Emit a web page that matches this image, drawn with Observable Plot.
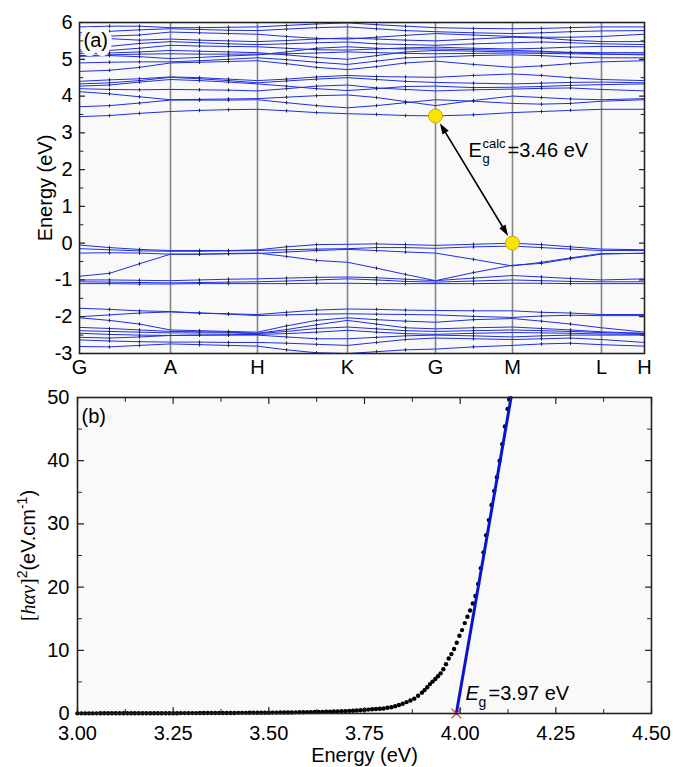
<!DOCTYPE html>
<html><head><meta charset="utf-8">
<script src="https://cdn.jsdelivr.net/npm/d3@7"></script>
<script src="https://cdn.jsdelivr.net/npm/@observablehq/plot@0.6"></script>
<style>
body{margin:0;background:#fff;}
#wrap{width:673px;height:767px;}
#wrap svg{display:block;}
</style></head><body><div id="wrap"></div>
<script>
// ---------- Panel (a): band structure ----------
const kDist = [0,30,60,91,120,149,178,207,237,268,297,326,356,394,433,462,491,522,565];
const kHigh = [0,91,178,268,356,433,522,565];
const kLabels = ["G","A","H","K","G","M","L","H"];
const conduction = [
[3.44,3.47,3.53,3.58,3.61,3.63,3.64,3.6,3.55,3.52,3.5,3.47,3.46,3.49,3.55,3.58,3.61,3.64,3.64],
[3.71,3.74,3.81,3.89,3.89,3.89,3.9,3.82,3.74,3.68,3.74,3.82,3.9,3.86,3.8,3.78,3.8,3.86,3.9],
[4.12,4.06,3.98,3.9,3.91,3.92,3.93,3.97,4.01,4.03,3.96,3.85,3.74,3.88,4.0,3.96,3.92,3.9,3.93],
[4.2,4.18,4.17,4.18,4.17,4.16,4.14,4.2,4.27,4.3,4.22,4.18,4.14,4.17,4.19,4.21,4.22,4.18,4.14],
[4.27,4.3,4.38,4.45,4.42,4.38,4.33,4.27,4.2,4.15,4.2,4.26,4.27,4.23,4.24,4.26,4.29,4.31,4.33],
[4.33,4.36,4.42,4.51,4.47,4.42,4.36,4.41,4.46,4.5,4.45,4.4,4.37,4.35,4.33,4.35,4.37,4.38,4.36],
[4.4,4.44,4.47,4.52,4.5,4.46,4.42,4.46,4.52,4.56,4.53,4.52,4.51,4.56,4.6,4.56,4.5,4.45,4.42],
[4.67,4.7,4.78,4.9,4.92,4.94,4.96,4.88,4.78,4.72,4.8,4.9,4.95,4.86,4.78,4.82,4.88,4.93,4.96],
[4.9,4.92,4.93,4.93,4.96,5.0,5.04,4.99,4.92,4.86,4.95,5.04,5.06,5.1,5.12,5.1,5.06,5.04,5.04],
[5.1,5.12,5.14,5.15,5.14,5.14,5.14,5.15,5.17,5.2,5.18,5.16,5.15,5.16,5.17,5.16,5.15,5.14,5.14],
[5.15,5.17,5.2,5.24,5.22,5.2,5.18,5.12,5.05,5.0,5.1,5.2,5.24,5.22,5.2,5.2,5.19,5.18,5.18],
[5.2,5.24,5.3,5.38,5.36,5.35,5.34,5.3,5.26,5.25,5.28,5.31,5.33,5.3,5.28,5.3,5.33,5.35,5.34],
[5.25,5.35,5.43,5.48,5.45,5.42,5.4,5.42,5.45,5.47,5.42,5.4,5.38,5.42,5.45,5.47,5.45,5.42,5.4],
[5.6,5.56,5.52,5.55,5.52,5.5,5.48,5.51,5.55,5.58,5.55,5.52,5.5,5.55,5.6,5.58,5.52,5.48,5.48],
[5.66,5.63,5.66,5.74,5.72,5.7,5.68,5.62,5.57,5.55,5.6,5.65,5.7,5.66,5.62,5.6,5.6,5.62,5.68],
[5.72,5.76,5.8,5.83,5.81,5.79,5.78,5.82,5.86,5.88,5.83,5.78,5.75,5.72,5.7,5.72,5.75,5.77,5.78],
[5.88,5.9,5.9,5.86,5.86,5.87,5.88,5.92,5.96,5.99,5.94,5.9,5.86,5.84,5.83,5.84,5.86,5.88,5.88],
[5.08,5.1,5.07,5.02,5.05,5.09,5.12,5.2,5.3,5.34,5.3,5.28,5.28,5.26,5.24,5.22,5.18,5.14,5.12]
];
const valence = [
[-0.05,-0.12,-0.17,-0.2,-0.2,-0.2,-0.18,-0.1,-0.04,-0.03,-0.02,-0.04,-0.06,-0.03,0.0,-0.04,-0.1,-0.16,-0.18],
[-0.15,-0.18,-0.21,-0.22,-0.22,-0.21,-0.2,-0.18,-0.16,-0.15,-0.12,-0.12,-0.14,-0.1,-0.08,-0.12,-0.16,-0.2,-0.2],
[-0.27,-0.26,-0.27,-0.3,-0.3,-0.28,-0.27,-0.36,-0.47,-0.52,-0.68,-0.85,-1.02,-0.8,-0.6,-0.55,-0.42,-0.3,-0.27],
[-0.9,-0.82,-0.56,-0.3,-0.3,-0.29,-0.28,-0.24,-0.2,-0.17,-0.2,-0.24,-0.27,-0.44,-0.62,-0.52,-0.4,-0.28,-0.28],
[-1.0,-1.0,-1.01,-1.02,-1.0,-0.98,-0.97,-0.95,-0.93,-0.92,-0.94,-0.98,-1.02,-0.95,-0.88,-0.92,-0.96,-1.0,-0.97],
[-1.05,-1.06,-1.07,-1.08,-1.07,-1.06,-1.05,-1.03,-1.0,-0.97,-1.0,-1.04,-1.06,-1.03,-1.0,-1.02,-1.04,-1.05,-1.05],
[-1.1,-1.1,-1.11,-1.11,-1.1,-1.1,-1.1,-1.1,-1.09,-1.09,-1.1,-1.1,-1.1,-1.1,-1.09,-1.09,-1.1,-1.1,-1.1],
[-1.77,-1.8,-1.84,-1.86,-1.9,-1.92,-1.94,-1.88,-1.82,-1.79,-1.8,-1.82,-1.83,-1.84,-1.84,-1.88,-1.9,-1.94,-1.94],
[-2.0,-1.95,-1.9,-1.87,-1.9,-1.93,-1.97,-1.95,-1.93,-1.92,-1.93,-1.94,-1.95,-1.99,-2.02,-1.98,-1.96,-1.97,-1.97],
[-2.03,-2.1,-2.2,-2.36,-2.38,-2.4,-2.42,-2.25,-2.1,-2.03,-2.08,-2.12,-2.15,-2.08,-2.05,-2.12,-2.2,-2.3,-2.42],
[-2.29,-2.32,-2.36,-2.4,-2.41,-2.42,-2.45,-2.35,-2.22,-2.1,-2.2,-2.3,-2.33,-2.3,-2.28,-2.32,-2.36,-2.41,-2.45],
[-2.38,-2.4,-2.42,-2.44,-2.44,-2.44,-2.46,-2.4,-2.32,-2.28,-2.33,-2.38,-2.4,-2.38,-2.36,-2.38,-2.4,-2.43,-2.46],
[-2.45,-2.48,-2.5,-2.51,-2.5,-2.49,-2.48,-2.46,-2.42,-2.37,-2.42,-2.46,-2.48,-2.45,-2.43,-2.44,-2.45,-2.47,-2.48],
[-2.56,-2.58,-2.55,-2.51,-2.5,-2.5,-2.5,-2.55,-2.6,-2.6,-2.56,-2.52,-2.5,-2.52,-2.55,-2.52,-2.5,-2.5,-2.5],
[-2.63,-2.66,-2.68,-2.69,-2.69,-2.7,-2.7,-2.72,-2.75,-2.78,-2.7,-2.62,-2.58,-2.6,-2.62,-2.6,-2.58,-2.62,-2.7],
[-2.81,-2.82,-2.78,-2.74,-2.76,-2.78,-2.8,-2.9,-2.98,-3.0,-2.95,-2.9,-2.88,-2.82,-2.78,-2.74,-2.72,-2.76,-2.8]
];
const gapCalc = 3.46;           // eV, CBM at G
const vbmEnergy = 0;            // eV, VBM at M
const cbmIndex = 4, vbmIndex = 5; // into kHigh
const gapLabelPos = {k: 389, E: 2.33};
const yTicksA = [-3,-2,-1,0,1,2,3,4,5,6];
const yMinorA = [-2.5,-1.5,-0.5,0.5,1.5,2.5,3.5,4.5,5.5];

// ---------- Panel (b): Tauc plot ----------
const absEnergy = [
3.00,3.01,3.02,3.03,3.04,3.05,3.06,3.07,3.08,3.09,
3.10,3.11,3.12,3.13,3.14,3.15,3.16,3.17,3.18,3.19,
3.20,3.21,3.22,3.23,3.24,3.25,3.26,3.27,3.28,3.29,
3.30,3.31,3.32,3.33,3.34,3.35,3.36,3.37,3.38,3.39,
3.40,3.41,3.42,3.43,3.44,3.45,3.46,3.47,3.48,3.49,
3.50,3.51,3.52,3.53,3.54,3.55,3.56,3.57,3.58,3.59,
3.60,3.61,3.62,3.63,3.64,3.65,3.66,3.67,3.68,3.69,
3.70,3.71,3.72,3.73,3.74,3.75,3.76,3.77,3.78,3.79,
3.80,3.81,3.82,3.83,3.84,3.85,3.86,3.87,3.88,3.89,
3.900,3.907,3.914,3.921,3.928,3.935,3.942,3.949,3.956,3.963,
3.970,3.977,3.984,3.991,3.998,4.005,4.012,4.019,4.026,4.033,
4.040,4.047,4.054,4.061,4.068,4.075,4.082,4.089,4.096,4.103,
4.110,4.117,4.124,4.128];
const absValue = [
0.02,0.02,0.02,0.02,0.02,0.02,0.03,0.03,0.03,0.03,
0.03,0.03,0.03,0.03,0.04,0.04,0.04,0.04,0.04,0.04,
0.04,0.05,0.05,0.05,0.05,0.05,0.05,0.06,0.06,0.06,
0.06,0.06,0.07,0.07,0.07,0.07,0.08,0.08,0.08,0.09,
0.09,0.09,0.10,0.10,0.10,0.11,0.11,0.12,0.12,0.13,
0.13,0.14,0.14,0.15,0.16,0.16,0.17,0.18,0.19,0.20,
0.21,0.22,0.23,0.24,0.26,0.27,0.29,0.31,0.33,0.35,
0.38,0.41,0.44,0.48,0.52,0.57,0.62,0.68,0.72,0.76,
0.80,0.90,1.00,1.15,1.35,1.55,1.80,2.05,2.35,2.80,
3.3,3.7,4.15,4.65,5.05,5.45,5.9,6.35,7.0,7.8,
8.7,9.4,10.2,11.2,12.3,13.2,14.3,15.3,16.3,17.4,
18.6,20.5,23.0,25.5,28.2,30.6,33.0,35.2,37.4,40.0,
42.6,45.4,48.2,49.8];
const fitEnergy = [3.99, 4.133];
const fitValue = [0, 50];
const egFit = 3.97;
const egLabelPos = {e: 4.014, a: 2.06};
const xTicksB = [3.00,3.25,3.50,3.75,4.00,4.25,4.50];
const xMinorB = [3.125,3.375,3.625,3.875,4.125,4.375];
const yTicksB = [0,10,20,30,40,50];
const yMinorB = [5,15,25,35,45];

// ---------- helpers ----------
const FONT = "'Liberation Sans', Arial, sans-serif";
const BG = "#f9f9f9";
const TICKFS = 20, TITLEFS = 20;
const tickShape = {draw(ctx, l) { ctx.moveTo(0, 0); ctx.lineTo(0, -l); }};
const plusSym = {draw(ctx) { ctx.moveTo(0, -1.8); ctx.lineTo(0, 1.8); ctx.moveTo(-1, 0); ctx.lineTo(1, 0); }};
const headSym = {draw(ctx) { ctx.moveTo(0, 0); ctx.lineTo(-3.6, 11); ctx.lineTo(3.6, 11); ctx.closePath(); }};
function inTicks(vals, side, len, sw) {
  const base = {length: len, anchor: "start", shape: tickShape, stroke: "#222", strokeWidth: sw, fill: "none"};
  if (side === "left") return Plot.vector(vals, {...base, y: d => d, frameAnchor: "left", rotate: 90});
  if (side === "right") return Plot.vector(vals, {...base, y: d => d, frameAnchor: "right", rotate: -90});
  if (side === "bottom") return Plot.vector(vals, {...base, x: d => d, frameAnchor: "bottom", rotate: 0});
  return Plot.vector(vals, {...base, x: d => d, frameAnchor: "top", rotate: 180});
}

// ---------- build panel (a) ----------
const W = 673;
const A = {h: 380, ml: 79, mr: 29, mt: 22, mb: 27};
const bands = [...valence, ...conduction];
const bandTable = bands.flatMap((b, bi) => b.map((E, i) => ({band: bi, k: kDist[i], E})));
const highSet = new Set(kHigh);
const markerTable = bandTable.filter(d => !highSet.has(d.k));
const kG = kHigh[cbmIndex], kM = kHigh[vbmIndex];
const gapPts = [{k: kG, E: gapCalc}, {k: kM, E: vbmEnergy}];
const kMax = kHigh[kHigh.length - 1];
const pxK = (W - A.ml - A.mr) / kMax;
const pxE = (A.h - A.mt - A.mb) / (yTicksA[yTicksA.length - 1] - yTicksA[0]);
const ddx = (kM - kG) * pxK, ddy = (gapCalc - vbmEnergy) * pxE;
const len = Math.hypot(ddx, ddy), ux = ddx / len, uy = ddy / len;
const ang = Math.atan2(ddy, ddx) * 180 / Math.PI;
const inset = 8.5;
const labelMap = new Map(kHigh.map((k, i) => [k, kLabels[i]]));

const plotA = Plot.plot({
  width: W, height: A.h,
  marginLeft: A.ml, marginRight: A.mr, marginTop: A.mt, marginBottom: A.mb,
  style: {fontFamily: FONT, fontSize: TICKFS + "px", color: "black", background: "white"},
  x: {domain: [0, kMax]},
  y: {domain: [yTicksA[0], yTicksA[yTicksA.length - 1]]},
  marks: [
    Plot.frame({fill: BG, stroke: "none"}),
    Plot.ruleX(kHigh.slice(1, -1), {stroke: "#858585", strokeWidth: 1.6}),
    Plot.line(bandTable, {x: "k", y: "E", z: "band", stroke: "#1f2ee0", strokeWidth: 1, clip: true}),
    Plot.dot(markerTable, {x: "k", y: "E", symbol: plusSym, stroke: "#222", strokeWidth: 0.9, fill: "none", clip: true}),
    Plot.text(["(a)"], {text: d => d, frameAnchor: "top-left", dx: 4, dy: 10, lineAnchor: "top", textAnchor: "start", fontSize: TITLEFS, fill: "black", stroke: BG, strokeWidth: 10}),
    Plot.arrow([{x1: kG, y1: gapCalc, x2: kM, y2: vbmEnergy}], {x1: "x1", y1: "y1", x2: "x2", y2: "y2", insetStart: inset + 6, insetEnd: inset + 6, headLength: 0, stroke: "black", strokeWidth: 1.6}),
    Plot.dot([gapPts[1]], {x: "k", y: "E", symbol: headSym, rotate: ang + 90, dx: -ux * inset, dy: -uy * inset, fill: "black", stroke: "none"}),
    Plot.dot([gapPts[0]], {x: "k", y: "E", symbol: headSym, rotate: ang - 90, dx: ux * inset, dy: uy * inset, fill: "black", stroke: "none"}),
    Plot.dot(gapPts, {x: "k", y: "E", r: 7, fill: "#f8e400", stroke: "#caa800", strokeWidth: 1}),
    Plot.text([gapLabelPos], {x: "k", y: "E", text: () => "E", fontSize: 20, textAnchor: "start", lineAnchor: "bottom"}),
    Plot.text([gapLabelPos], {x: "k", y: "E", text: () => "calc", fontSize: 13, dx: 14, dy: -9, textAnchor: "start", lineAnchor: "bottom"}),
    Plot.text([gapLabelPos], {x: "k", y: "E", text: () => "g", fontSize: 13, dx: 14, dy: 6, textAnchor: "start", lineAnchor: "bottom"}),
    Plot.text([gapLabelPos], {x: "k", y: "E", text: () => `=${gapCalc.toFixed(2)} eV`, fontSize: 20, dx: 39, textAnchor: "start", lineAnchor: "bottom"}),
    Plot.frame({stroke: "#222", strokeWidth: 1.6}),
    inTicks(yTicksA, "left", 5, 1.2), inTicks(yMinorA, "left", 3.5, 1),
    inTicks(yTicksA, "right", 5, 1.2), inTicks(yMinorA, "right", 3.5, 1),
    Plot.axisY(yTicksA, {tickSize: 0, tickPadding: 7, fontSize: TICKFS, tickFormat: d => String(d), label: "Energy (eV)", labelArrow: "none", labelAnchor: "center", labelOffset: 42}),
    Plot.axisX(kHigh, {tickSize: 0, tickPadding: 6, fontSize: TICKFS, tickFormat: d => labelMap.get(d), label: null})
  ]
});

// ---------- build panel (b) ----------
const B = {h: 387, ml: 77, mr: 22, mt: 17, mb: 54};
const absTable = absEnergy.map((e, i) => ({e, a: absValue[i]}));
const fitTable = fitEnergy.map((e, i) => ({e, a: fitValue[i]}));
const plotB = Plot.plot({
  width: W, height: B.h,
  marginLeft: B.ml, marginRight: B.mr, marginTop: B.mt, marginBottom: B.mb,
  style: {fontFamily: FONT, fontSize: TICKFS + "px", color: "black", background: "white"},
  x: {domain: [xTicksB[0], xTicksB[xTicksB.length - 1]]},
  y: {domain: [yTicksB[0], yTicksB[yTicksB.length - 1]]},
  marks: [
    Plot.frame({fill: BG, stroke: "none"}),
    Plot.dot(absTable, {x: "e", y: "a", r: 2.2, fill: "black", stroke: "none"}),
    Plot.line(fitTable, {x: "e", y: "a", stroke: "#0a14cc", strokeWidth: 3}),
    Plot.dot([fitTable[0]], {x: "e", y: "a", symbol: "times", r: 4.5, stroke: "#e8202a", strokeWidth: 1.2}),
    Plot.text(["(b)"], {text: d => d, frameAnchor: "top-left", dx: 4, dy: 11, lineAnchor: "top", textAnchor: "start", fontSize: TITLEFS}),
    Plot.text([egLabelPos], {x: "e", y: "a", text: () => "E", fontStyle: "italic", fontSize: 20, textAnchor: "start", lineAnchor: "bottom"}),
    Plot.text([egLabelPos], {x: "e", y: "a", text: () => "g", fontSize: 14, dx: 13, dy: 7, textAnchor: "start", lineAnchor: "bottom"}),
    Plot.text([egLabelPos], {x: "e", y: "a", text: () => `=${egFit.toFixed(2)} eV`, fontSize: 20, dx: 23, textAnchor: "start", lineAnchor: "bottom"}),
    Plot.frame({stroke: "#222", strokeWidth: 1.6}),
    inTicks(xTicksB, "bottom", 6, 1.2), inTicks(xMinorB, "bottom", 4, 1),
    inTicks(xTicksB, "top", 6, 1.2), inTicks(xMinorB, "top", 4, 1),
    inTicks(yTicksB, "left", 6, 1.2), inTicks(yMinorB, "left", 4, 1),
    inTicks(yTicksB, "right", 6, 1.2), inTicks(yMinorB, "right", 4, 1),
    Plot.axisX(xTicksB, {tickSize: 0, tickPadding: 12, fontSize: TICKFS, tickFormat: d3.format(".2f"), label: "Energy (eV)", labelArrow: "none", labelAnchor: "center", labelOffset: 48}),
    Plot.axisY(yTicksB, {tickSize: 0, tickPadding: 8, fontSize: TICKFS, tickFormat: d => String(d), label: "[hαν]²(eV.cm⁻¹)", labelArrow: "none", labelAnchor: "center", labelOffset: 57})
  ]
});

// rich text for the y label of panel (b)
const lab = plotB.querySelector('[aria-label="y-axis label"] text');
if (lab) {
  lab.textContent = "";
  const NS = "http://www.w3.org/2000/svg";
  const parts = [
    {t: "[", serif: true},
    {t: "hαν", serif: true, italic: true},
    {t: "]", serif: true},
    {t: "2", sup: true},
    {t: "(eV.cm"},
    {t: "-1", sup: true},
    {t: ")"}
  ];
  let shifted = false;
  for (const p of parts) {
    const ts = document.createElementNS(NS, "tspan");
    ts.textContent = p.t;
    if (p.serif) ts.setAttribute("font-family", "'Liberation Serif', 'Times New Roman', serif");
    if (p.italic) ts.setAttribute("font-style", "italic");
    if (p.sup) { ts.setAttribute("font-size", "14px"); ts.setAttribute("dy", "-8"); shifted = true; }
    else if (shifted) { ts.setAttribute("dy", "8"); shifted = false; }
    lab.appendChild(ts);
  }
}

document.getElementById("wrap").append(plotA, plotB);
</script></body></html>
